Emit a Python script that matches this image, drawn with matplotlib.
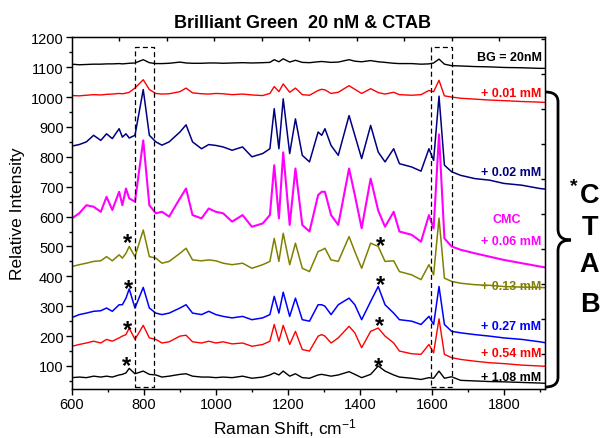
import matplotlib
matplotlib.use('Agg')
import matplotlib.pyplot as plt
import matplotlib.patches as patches
from matplotlib.path import Path
from matplotlib.transforms import offset_copy
from matplotlib.ticker import MultipleLocator

plt.rcParams['font.family'] = ['Liberation Sans', 'DejaVu Sans']
plt.rcParams['mathtext.default'] = 'regular'

# --- Data ---
shift = [600, 620, 640, 660, 680, 696, 712, 731, 740, 750,
         759, 775, 798, 815, 833, 850, 870, 900, 917, 935,
         960, 980, 1000, 1020, 1045, 1074, 1100, 1130, 1150, 1162,
         1175, 1187, 1205, 1221, 1240, 1260, 1284, 1294, 1303, 1320,
         1340, 1370, 1386, 1405, 1430, 1451, 1470, 1494, 1510, 1544,
         1570, 1592, 1605, 1620, 1635, 1655, 1680, 1720, 1760, 1800,
         1850, 1900, 1915]

bg_20nm = [1110, 1108, 1109, 1110, 1110, 1111, 1111, 1112, 1111, 1112,
           1113, 1114, 1125, 1115, 1112, 1112, 1113, 1117, 1114, 1113,
           1113, 1114, 1114, 1113, 1114, 1115, 1114, 1115, 1116, 1125,
           1118, 1128, 1117, 1123, 1116, 1115, 1118, 1119, 1118, 1116,
           1117, 1125, 1120, 1118, 1122, 1118, 1116, 1113, 1112, 1112,
           1110, 1111, 1114, 1127, 1110, 1105, 1104, 1102, 1101, 1099,
           1098, 1096, 1096]

ctab_001 = [1005, 1004, 1006, 1008, 1007, 1009, 1010, 1012, 1011, 1013,
            1016, 1030, 1058, 1025, 1012, 1010, 1011, 1018, 1030, 1014,
            1011, 1010, 1012, 1011, 1008, 1010, 1007, 1005, 1012, 1035,
            1018, 1044, 1016, 1030, 1008, 1006, 1022, 1026, 1024, 1012,
            1016, 1038, 1026, 1012, 1028, 1015, 1010, 1016, 1008, 1006,
            1008, 1022, 1018, 1056, 1004, 1000, 996, 993, 990, 988,
            985, 983, 982]

ctab_002 = [836, 841, 850, 872, 855, 877, 861, 894, 866, 877,
            863, 872, 1025, 872, 850, 839, 850, 883, 907, 850,
            827, 841, 838, 833, 822, 833, 800, 811, 827, 961,
            827, 994, 811, 927, 805, 783, 883, 872, 894, 838,
            805, 938, 872, 794, 905, 816, 783, 827, 777, 766,
            752, 827, 788, 1003, 772, 750, 738, 727, 722, 711,
            705, 694, 692]

ctab_006 = [594, 611, 638, 633, 616, 666, 622, 683, 638, 694,
            661, 650, 855, 638, 611, 616, 600, 661, 694, 605,
            594, 627, 616, 611, 583, 605, 566, 577, 605, 772,
            594, 815, 572, 761, 572, 550, 672, 683, 683, 605,
            572, 761, 672, 561, 727, 620, 566, 616, 550, 539,
            516, 605, 560, 875, 527, 500, 489, 477, 466, 455,
            444, 433, 430]

ctab_013 = [433, 439, 444, 450, 452, 466, 452, 472, 461, 477,
            500, 466, 555, 466, 461, 444, 450, 477, 494, 455,
            452, 455, 452, 444, 439, 444, 427, 439, 450, 527,
            450, 544, 439, 511, 427, 416, 483, 488, 494, 455,
            450, 533, 483, 427, 511, 500, 450, 452, 416, 405,
            389, 439, 405, 595, 394, 383, 377, 372, 370, 366,
            364, 363, 362]

ctab_027 = [262, 272, 277, 283, 285, 294, 283, 305, 305, 327,
            358, 294, 363, 294, 277, 272, 277, 294, 305, 277,
            272, 283, 272, 266, 261, 266, 255, 261, 272, 333,
            277, 347, 266, 327, 255, 250, 305, 305, 300, 272,
            305, 327, 305, 255, 316, 366, 305, 277, 255, 250,
            239, 266, 239, 366, 239, 216, 211, 205, 200, 194,
            189, 181, 178]

ctab_054 = [166, 172, 177, 183, 177, 189, 183, 194, 200, 205,
            227, 189, 236, 194, 189, 177, 181, 200, 203, 181,
            177, 183, 177, 181, 174, 177, 166, 172, 183, 239,
            183, 236, 172, 216, 155, 150, 200, 205, 200, 177,
            194, 233, 211, 161, 216, 227, 200, 177, 150, 141,
            139, 172, 144, 258, 139, 128, 122, 116, 111, 108,
            103, 100, 99]

ctab_108 = [61, 63, 61, 66, 63, 66, 63, 70, 72, 77,
            92, 74, 83, 72, 70, 63, 66, 72, 74, 66,
            63, 63, 61, 63, 61, 66, 59, 63, 70, 77,
            70, 83, 66, 74, 61, 59, 70, 72, 70, 66,
            70, 81, 72, 61, 72, 100, 83, 70, 63, 59,
            55, 61, 59, 83, 59, 64, 52, 50, 48, 47,
            45, 43, 42]

series = [bg_20nm, ctab_001, ctab_002, ctab_006, ctab_013, ctab_027, ctab_054, ctab_108]
colors = ['black', '#ff0000', '#000080', '#ff00ff', '#808000', '#0000ff', '#ff0000', 'black']
widths = [1.0, 1.0, 1.1, 1.5, 1.1, 1.1, 1.0, 1.0]

label_text = ['BG = 20nM', '+ 0.01 mM', '+ 0.02 mM', '+ 0.06 mM',
              '+ 0.13 mM', '+ 0.27 mM', '+ 0.54 mM', '+ 1.08 mM']
label_y = [1133, 1013, 748, 517, 369, 233, 144, 64]

star_x = [755, 756, 755, 752, 1456, 1457, 1454, 1451]
star_y = [537, 385, 247, 125, 528, 397, 261, 122]

box_left = [775, 1597]
box_right = [829, 1657]
box_bottom, box_top = 30, 1168

# --- Figure ---
fig = plt.figure(figsize=(6, 4.39), dpi=100)
ax = fig.add_axes([0.12, 0.1116, 0.788, 0.8012])

for ys, c, lw in zip(series, colors, widths):
    ax.plot(shift, ys, color=c, lw=lw)

ax.set_xlim(600, 1914)
ax.set_ylim(23, 1200)
ax.xaxis.set_major_locator(MultipleLocator(200))
ax.xaxis.set_minor_locator(MultipleLocator(100))
ax.yaxis.set_major_locator(MultipleLocator(100))
ax.yaxis.set_minor_locator(MultipleLocator(50))
ax.set_yticks(range(100, 1201, 100))
ax.tick_params(which='major', direction='out', length=4, width=1, labelsize=10.5, pad=2)
ax.tick_params(which='minor', direction='out', length=2.5, width=1)
for s in ax.spines.values():
    s.set_linewidth(1.0)
    s.set_color('#333333')

# top / right layer ticks (separate layer in the original)
axt = ax.twiny()
axt.set_xlim(0, 9.96)
axt.set_xticks(range(1, 10))
axt.tick_params(direction='in', length=3, width=1, labeltop=False)
axr = ax.twinx()
axr.set_ylim(0, 10.05)
axr.set_yticks(range(1, 11))
axr.tick_params(direction='in', length=3, width=1, labelright=False)

# dashed boxes
for x0, x1 in zip(box_left, box_right):
    ax.add_patch(patches.Rectangle((x0, box_bottom), x1 - x0, box_top - box_bottom,
                                   fill=False, ls=(0, (4, 2.5)), lw=0.9,
                                   ec='black', clip_on=False, zorder=5))

# labels at the right end
for t, y, c in zip(label_text, label_y, colors):
    ax.text(1905, y, t, color=c, ha='right', va='center',
            fontsize=9, fontweight='bold', zorder=6)
ax.text(1808, 591, 'CMC', color='#ff00ff', ha='center', va='center',
        fontsize=9, fontweight='bold')

# asterisks
star_tr = offset_copy(ax.transData, fig=fig, y=-10, units='points')
for x, y in zip(star_x, star_y):
    ax.text(x, y, '*', transform=star_tr, ha='center', va='baseline',
            fontsize=17, fontweight='bold')

# title and axis labels
fig.text(0.504, 1 - 23 / 439, 'Brilliant Green  20 nM & CTAB', ha='center', va='center',
         fontsize=13, fontweight='bold')
fig.text(285 / 600, 1 - 434 / 439, 'Raman Shift, cm$^{-1}$', ha='center', va='baseline',
         fontsize=12.5)
fig.text(18 / 600, 1 - 213.5 / 439, 'Relative Intensity', ha='center', va='center',
         rotation=90, fontsize=12.5)

# brace on the right
def px(x, y):
    return (x / 600, 1 - y / 439)

verts = [px(545, 93), px(552, 93), px(558, 95), px(558, 103),
         px(558, 230),
         px(558, 238), px(563, 241), px(571, 241),
         px(563, 241), px(558, 244), px(558, 252),
         px(558, 378),
         px(558, 386), px(552, 388), px(545, 388)]
codes = [Path.MOVETO, Path.CURVE4, Path.CURVE4, Path.CURVE4,
         Path.LINETO,
         Path.CURVE4, Path.CURVE4, Path.CURVE4,
         Path.CURVE4, Path.CURVE4, Path.CURVE4,
         Path.LINETO,
         Path.CURVE4, Path.CURVE4, Path.CURVE4]
fig.patches.append(patches.PathPatch(Path(verts, codes), transform=fig.transFigure,
                                     fill=False, lw=2.0, ec='black'))

# *CTAB letters
fig.text(574 / 600, 1 - 191 / 439, '*', ha='center', va='baseline', fontsize=14, fontweight='bold')
for letter, base in zip(['C', 'T', 'A', 'B'], [203, 235, 272, 312]):
    fig.text(589.5 / 600, 1 - base / 439, letter, ha='center', va='baseline',
             fontsize=19.5, fontweight='bold')

fig.savefig('out.png', dpi=100)
